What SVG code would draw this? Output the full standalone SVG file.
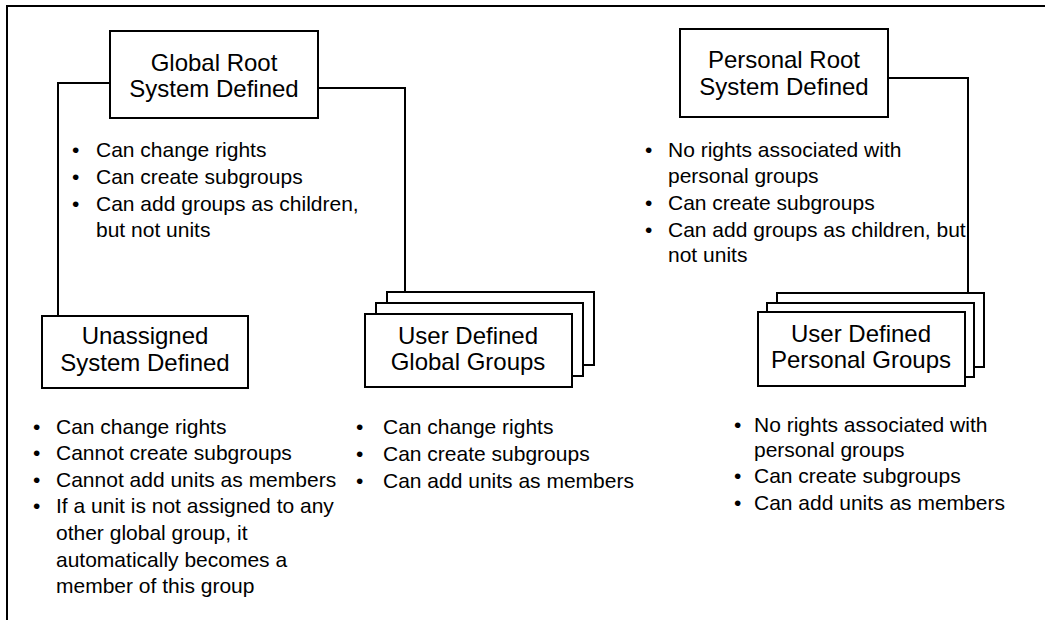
<svg xmlns="http://www.w3.org/2000/svg" width="1045" height="620" viewBox="0 0 1045 620">
<style>
.box{fill:#fff;stroke:#000;stroke-width:2}
.ln{fill:none;stroke:#000;stroke-width:2}
.t{font-family:"Liberation Sans",Arial,sans-serif;font-size:24px;fill:#000;text-anchor:middle}
.b{font-family:"Liberation Sans",Arial,sans-serif;font-size:21px;fill:#000}
</style>
<rect width="1045" height="620" fill="#fff"/>
<g id="frame">
<polyline class="ln" points="7,620 7,6 1045,6"/>
</g>
<g id="connectors">
<polyline class="ln" points="110,83 58,83 58,316"/>
<polyline class="ln" points="318,88 405,88 405,292"/>
<polyline class="ln" points="888,78 968,78 968,293"/>
</g>
<g id="global-root">
<rect class="box" x="110" y="31" width="208" height="87"/>
<text class="t" x="214" y="71">Global Root</text>
<text class="t" x="214" y="97">System Defined</text>
</g>
<g id="global-root-notes" class="b">
<text x="72" y="157">•</text><text x="96" y="157">Can change rights</text>
<text x="72" y="184">•</text><text x="96" y="184">Can create subgroups</text>
<text x="72" y="211">•</text><text x="96" y="211">Can add groups as children,</text>
<text x="96" y="237">but not units</text>
</g>
<g id="unassigned">
<rect class="box" x="42" y="316" width="206" height="72"/>
<text class="t" x="145" y="344">Unassigned</text>
<text class="t" x="145" y="371">System Defined</text>
</g>
<g id="unassigned-notes" class="b">
<text x="33" y="434">•</text><text x="56" y="434">Can change rights</text>
<text x="33" y="460">•</text><text x="56" y="460">Cannot create subgroups</text>
<text x="33" y="487">•</text><text x="56" y="487">Cannot add units as members</text>
<text x="33" y="513">•</text><text x="56" y="513">If a unit is not assigned to any</text>
<text x="56" y="540">other global group, it</text>
<text x="56" y="567">automatically becomes a</text>
<text x="56" y="593">member of this group</text>
</g>
<g id="user-global">
<rect class="box" x="387" y="292" width="207" height="73"/>
<rect class="box" x="376" y="303" width="207" height="73"/>
<rect class="box" x="365" y="314" width="207" height="73"/>
<text class="t" x="468" y="344">User Defined</text>
<text class="t" x="468" y="370">Global Groups</text>
</g>
<g id="user-global-notes" class="b">
<text x="356" y="434">•</text><text x="383" y="434">Can change rights</text>
<text x="356" y="461">•</text><text x="383" y="461">Can create subgroups</text>
<text x="356" y="488">•</text><text x="383" y="488">Can add units as members</text>
</g>
<g id="personal-root">
<rect class="box" x="680" y="29" width="208" height="88"/>
<text class="t" x="784" y="68">Personal Root</text>
<text class="t" x="784" y="95">System Defined</text>
</g>
<g id="personal-root-notes" class="b">
<text x="645" y="157">•</text><text x="668" y="157">No rights associated with</text>
<text x="668" y="183">personal groups</text>
<text x="645" y="210">•</text><text x="668" y="210">Can create subgroups</text>
<text x="645" y="237">•</text><text x="668" y="237">Can add groups as children, but</text>
<text x="668" y="262">not units</text>
</g>
<g id="user-personal">
<rect class="box" x="777" y="293" width="207" height="74"/>
<rect class="box" x="767" y="303" width="207" height="74"/>
<rect class="box" x="758" y="312" width="207" height="74"/>
<text class="t" x="861" y="342">User Defined</text>
<text class="t" x="861" y="368">Personal Groups</text>
</g>
<g id="user-personal-notes" class="b">
<text x="734" y="432">•</text><text x="754" y="432">No rights associated with</text>
<text x="754" y="457">personal groups</text>
<text x="734" y="483">•</text><text x="754" y="483">Can create subgroups</text>
<text x="734" y="510">•</text><text x="754" y="510">Can add units as members</text>
</g>
</svg>
